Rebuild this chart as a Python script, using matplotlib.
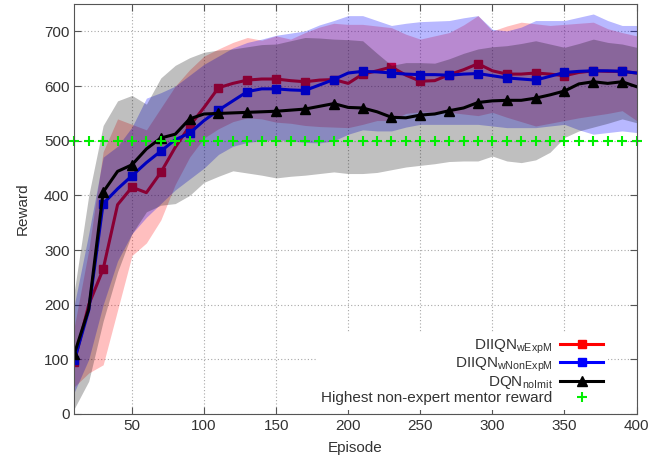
import matplotlib
matplotlib.use("Agg")
import matplotlib.pyplot as plt
import numpy as np

plt.rcParams['font.family'] = ['Liberation Sans', 'DejaVu Sans']
plt.rcParams['mathtext.fontset'] = 'custom'
plt.rcParams['mathtext.rm'] = 'Liberation Sans'
plt.rcParams['mathtext.it'] = 'Liberation Sans:italic'

episodes = list(range(10, 401, 10))

# DIIQN_wExpM
red_mean = [95, 200, 265, 383, 415, 405, 442, 488, 527, 561,
            597, 605, 611, 613, 613, 610, 608, 611, 612, 605,
            622, 628, 635, 620, 609, 610, 621, 630, 641, 628,
            622, 622, 624, 622, 619, 625, 628, 627, 627, 624]
red_low = [50, 75, 90, 190, 290, 313, 355, 420, 470, 505,
           522, 535, 542, 540, 534, 532, 528, 526, 525, 524,
           530, 537, 537, 550, 553, 552, 552, 549, 546, 552,
           543, 535, 527, 532, 537, 542, 546, 550, 555, 537]
red_high = [160, 300, 480, 540, 530, 520, 560, 600, 630, 655,
            668, 680, 689, 684, 692, 686, 698, 708, 715, 713,
            713, 710, 707, 695, 686, 692, 698, 712, 729, 701,
            710, 717, 714, 711, 713, 715, 717, 705, 698, 692]

# DIIQN_wNonExpM
blue_mean = [98, 190, 385, 412, 436, 460, 481, 502, 514, 537,
             556, 573, 590, 595, 595, 593, 592, 602, 612, 624,
             627, 626, 624, 622, 621, 621, 620, 622, 623, 619,
             615, 613, 611, 618, 625, 627, 628, 628, 627, 624]
blue_low = [40, 100, 200, 280, 330, 360, 385, 410, 430, 450,
            475, 490, 497, 500, 502, 500, 497, 496, 500, 512,
            520, 518, 518, 525, 530, 530, 530, 530, 530, 527,
            524, 524, 524, 527, 530, 520, 512, 515, 518, 515]
blue_high = [200, 330, 470, 490, 525, 578, 588, 600, 620, 640,
             655, 670, 680, 686, 693, 697, 701, 712, 720, 729,
             729, 720, 711, 715, 718, 719, 720, 725, 729, 704,
             701, 708, 720, 720, 720, 726, 732, 720, 711, 711]

# DQN_noImit
black_mean = [110, 192, 406, 444, 456, 485, 505, 512, 540, 549,
              550, 551, 552, 553, 554, 556, 558, 563, 568, 561,
              560, 553, 543, 542, 547, 549, 555, 560, 570, 573,
              574, 574, 578, 584, 591, 604, 608, 605, 608, 599]
black_low = [10, 60, 170, 260, 330, 370, 382, 385, 400, 424,
             435, 445, 441, 437, 432, 435, 437, 440, 443, 440,
             440, 442, 447, 452, 455, 458, 462, 463, 463, 472,
             463, 460, 465, 479, 506, 518, 525, 532, 540, 533]
black_high = [225, 400, 528, 573, 583, 567, 615, 638, 652, 662,
              666, 668, 672, 676, 677, 683, 689, 688, 686, 685,
              683, 660, 638, 643, 643, 642, 650, 660, 668, 672,
              674, 678, 683, 677, 671, 678, 686, 680, 677, 671]

mentor_reward = [500] * len(episodes)

labels = [r'DIIQN$_{\rm wExpM}$', r'DIIQN$_{\rm wNonExpM}$',
          r'DQN$_{\rm noImit}$', 'Highest non-expert mentor reward']

fig = plt.figure(figsize=(6.63, 4.61), dpi=100)
ax = fig.add_axes([0.1121, 0.102, 0.848, 0.889])

ax.fill_between(episodes, red_low, red_high, color='#ff0000', alpha=0.25, lw=0, zorder=1)
ax.plot(episodes, red_mean, color='#ff0000', lw=2.2, marker='s', ms=6,
        markevery=2, label=labels[0], zorder=2)
ax.fill_between(episodes, blue_low, blue_high, color='#0000ff', alpha=0.28, lw=0, zorder=3)
ax.plot(episodes, blue_mean, color='#0000ff', lw=2.2, marker='s', ms=6,
        markevery=2, label=labels[1], zorder=4)
ax.fill_between(episodes, black_low, black_high, color='#000000', alpha=0.25, lw=0, zorder=5)
ax.plot(episodes, black_mean, color='#000000', lw=2.2, marker='^', ms=7,
        markevery=2, label=labels[2], zorder=6)
ax.plot(episodes, mentor_reward, ls='none', marker='+', ms=6.5, mew=1.5,
        color='#00ee00', label=labels[3], zorder=7, clip_on=False)

ax.set_xlim(10, 400)
ax.set_ylim(0, 750)
ax.set_xticks(range(50, 401, 50))
ax.set_yticks(range(0, 701, 100))
ax.grid(True, ls=(0, (1, 2)), color='#a8a8a8', lw=0.8)
ax.set_axisbelow(True)

ax.tick_params(direction='in', top=True, right=True, labelsize=11,
               colors='#555555', labelcolor='#333333', length=5)
for s in ax.spines.values():
    s.set_color('#555555')
    s.set_zorder(8)

ax.set_xlabel('Episode', fontsize=11, color='#333333', labelpad=6)
ax.set_ylabel('Reward', fontsize=11, color='#333333', labelpad=10)

leg = ax.legend(loc='lower right', bbox_to_anchor=(0.962, -0.008), markerfirst=False,
                fontsize=11, frameon=True, facecolor='white', edgecolor='none',
                framealpha=1, fancybox=False, handlelength=2.8, handletextpad=0.5,
                labelspacing=0.0, borderpad=0.3)
leg.set_zorder(9)
for t in leg.get_texts():
    t.set_color('#333333')
    t.set_ha('right')
leg._legend_box.align = 'right'

fig.savefig('out.png', dpi=100)
